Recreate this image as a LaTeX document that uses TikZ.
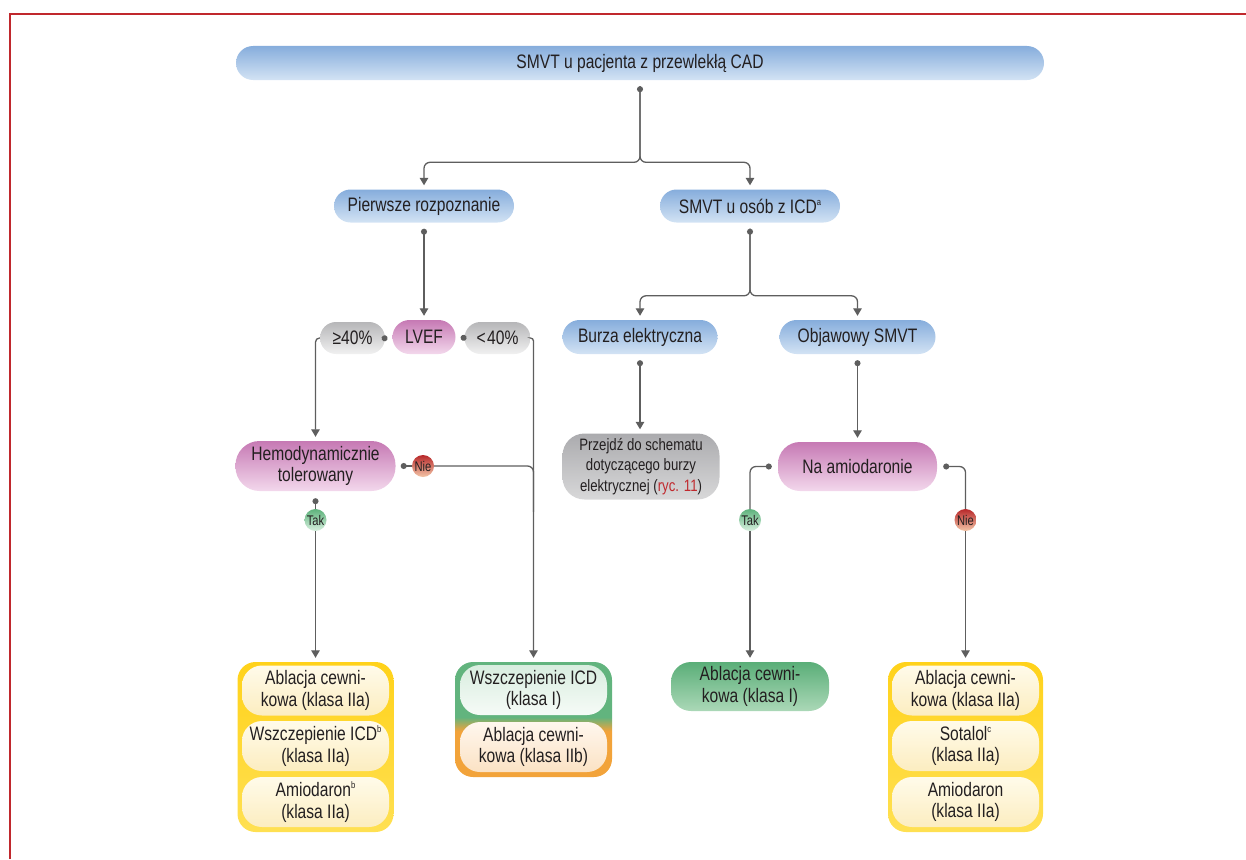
\documentclass[tikz,border=0pt]{standalone}
\usepackage{fontspec}
\setmainfont{Liberation Sans}[FakeStretch=0.80]
\usetikzlibrary{arrows.meta,calc}

\definecolor{ink}{HTML}{231F20}
\definecolor{frameC}{HTML}{C0282D}
\definecolor{lineC}{HTML}{5E5E5E}
\definecolor{refred}{HTML}{C0282D}
\definecolor{blueT}{HTML}{86ADDC}
\definecolor{blueB}{HTML}{D3E3F4}
\definecolor{pinkT}{HTML}{C679B4}
\definecolor{pinkB}{HTML}{F3D8EC}
\definecolor{pctT}{HTML}{B6B6B8}
\definecolor{pctB}{HTML}{F1F1F1}
\definecolor{stoneT}{HTML}{ABABAE}
\definecolor{stoneB}{HTML}{D8D8D9}
\definecolor{greenT}{HTML}{5AAE78}
\definecolor{greenB}{HTML}{ABD8B7}
\definecolor{goldT}{HTML}{FFD21A}
\definecolor{goldB}{HTML}{FFE052}
\definecolor{creamT}{HTML}{FFFBEA}
\definecolor{creamB}{HTML}{FCEDC0}
\definecolor{mintT}{HTML}{D8EDDF}
\definecolor{mintB}{HTML}{F6FBF7}
\definecolor{peachT}{HTML}{FFF7EE}
\definecolor{peachB}{HTML}{FBE2C4}
\definecolor{greenC}{HTML}{62B47E}
\definecolor{orangeC}{HTML}{F2A33A}
\definecolor{noT}{HTML}{B8282A}
\definecolor{noB}{HTML}{F3C6A8}
\definecolor{yesT}{HTML}{5DB27B}
\definecolor{yesB}{HTML}{D8F0DF}

\pgfdeclareverticalshading{greenorange}{100bp}{color(0bp)=(orangeC); color(45bp)=(orangeC); color(51bp)=(greenC); color(100bp)=(greenC)}

\newcommand\mainsize{\fontsize{19.5}{21.7}\selectfont}
\newcommand\smallsize{\fontsize{16.5}{20.5}\selectfont}
\newcommand\tagsize{\fontsize{14}{15}\selectfont}
% small raised footnote letter
\newcommand\fnmark[1]{\raisebox{7.5pt}{\fontsize{9.5}{9.5}\selectfont #1}}

\tikzset{
  box/.style={inner sep=0pt, align=center, text=ink, font=\mainsize},
  bluebox/.style={box, top color=blueT, bottom color=blueB, minimum height=33pt, rounded corners=16.5pt},
  pinkbox/.style={box, top color=pinkT, bottom color=pinkB},
  pctbox/.style={box, top color=pctT, bottom color=pctB, minimum height=32pt, rounded corners=16pt},
  stonebox/.style={box, top color=stoneT, bottom color=stoneB, font=\smallsize},
  greenbox/.style={box, top color=greenT, bottom color=greenB},
  goldframe/.style={top color=goldT, bottom color=goldB, minimum width=156pt, minimum height=170pt, rounded corners=18pt, inner sep=0pt},
  mixframe/.style={shading=greenorange, shade, minimum width=157pt, minimum height=115pt, rounded corners=18pt, inner sep=0pt},
  creambox/.style={box, top color=creamT, bottom color=creamB, minimum width=147pt, minimum height=50pt, rounded corners=20pt},
  mintbox/.style={box, top color=mintT, bottom color=mintB, minimum width=147pt, minimum height=50pt, rounded corners=20pt},
  peachbox/.style={box, top color=peachT, bottom color=peachB, minimum width=147pt, minimum height=50pt, rounded corners=20pt},
  notag/.style={circle, inner sep=0pt, minimum size=22pt, top color=noT, bottom color=noB, text=ink, font=\tagsize},
  yestag/.style={circle, inner sep=0pt, minimum size=22pt, top color=yesT, bottom color=yesB, text=ink, font=\tagsize},
  wire/.style={draw=lineC, line width=1.3pt, rounded corners=6pt},
  arr/.style={wire, -{Triangle[width=8.5pt,length=7.5pt]}, shorten >=4pt},
  darr/.style={wire, {Circle[length=6pt]}-{Triangle[width=8.5pt,length=7.5pt]}, shorten >=4pt},
  dwire/.style={wire, {Circle[length=6pt]}-},
  frame/.style={draw=frameC, line width=2pt}
}

\begin{document}
\begin{tikzpicture}[x=1pt,y=-1pt]
\useasboundingbox (0,0) rectangle (1246,859);
\draw[frame] (10,859) -- (10,14) -- (1246,14);

% --- level 1 and 2
\node[bluebox, minimum width=808pt, minimum height=34pt, rounded corners=17pt] (top) at (640,63) {SMVT u pacjenta z przewlekłą CAD};
\node[bluebox, minimum width=180pt] (first) at (424,206) {Pierwsze rozpoznanie};
\node[bluebox, minimum width=180pt] (icd) at (750,206) {SMVT u osób z ICD\fnmark{a}};

% --- LVEF row
\node[pinkbox, minimum width=63pt, minimum height=34pt, rounded corners=17pt] (lvef) at (424,337) {LVEF};
\node[pctbox, minimum width=65pt] (ge) at (352.5,338) {≥40\%};
\node[pctbox, minimum width=66pt] (lt) at (497.5,338) {<\kern1.5pt40\%};
\node[bluebox, minimum width=155pt, minimum height=34pt, rounded corners=17pt] (storm) at (640,337) {Burza elektryczna};
\node[bluebox, minimum width=156pt, minimum height=34pt, rounded corners=17pt] (symp) at (857.5,337) {Objawowy SMVT};

% --- decision row
\node[pinkbox, minimum width=160pt, minimum height=50pt, rounded corners=24pt] (hemo) at (315.5,466) {Hemodynamicznie\\tolerowany};
\node[stonebox, minimum width=157pt, minimum height=66pt, rounded corners=22pt] (goto) at (641,466.5) {Przejdź do schematu\\dotyczącego burzy\\elektrycznej ({\color{refred}ryc. 11})};
\node[pinkbox, minimum width=159pt, minimum height=49pt, rounded corners=22pt] (amio) at (857.5,466.5) {Na amiodaronie};

% --- yes / no tags
\node[notag] (no1) at (423,466) {Nie};
\node[yestag] (yes1) at (315.5,520) {Tak};
\node[yestag] (yes2) at (750,520) {Tak};
\node[notag] (no2) at (965.5,520) {Nie};

% --- therapies
\node[greenbox, minimum width=158pt, minimum height=49pt, rounded corners=20pt] (abl) at (750,686.5) {Ablacja cewni-\\kowa (klasa I)};

\node[goldframe] (lgold) at (315.5,747) {};
\node[creambox] (l1) at (315.5,690.5) {Ablacja cewni-\\kowa (klasa IIa)};
\node[creambox] (l2) at (315.5,746) {Wszczepienie ICD\fnmark{b}\\(klasa IIa)};
\node[creambox] (l3) at (315.5,802) {Amiodaron\fnmark{b}\\(klasa IIa)};

\node[mixframe] (mix) at (533.5,719.5) {};
\node[mintbox] (m1) at (533.5,690) {Wszczepienie ICD\\(klasa I)};
\node[peachbox] (m2) at (533.5,747) {Ablacja cewni-\\kowa (klasa IIb)};

\node[goldframe, minimum width=155pt] (rgold) at (965.5,747) {};
\node[creambox] (r1) at (965.5,690.5) {Ablacja cewni-\\kowa (klasa IIa)};
\node[creambox] (r2) at (965.5,746) {Sotalol\fnmark{c}\\(klasa IIa)};
\node[creambox] (r3) at (965.5,802) {Amiodaron\\(klasa IIa)};

% --- connectors
\draw[darr] ($(top.south)+(0,6)$) |- ($(first.north)+(0,-27)$) -- (first.north);
\draw[arr] ($(top.south)+(0,6)$) |- ($(icd.north)+(0,-27)$) -- (icd.north);

\draw[darr] ($(first.south)+(0,6)$) -- (lvef.north);
\draw[dwire] ($(lvef.west)+(-5,0)$) -- (ge.east);
\draw[dwire] ($(lvef.east)+(5,0)$) -- (lt.west);
\draw[arr, rounded corners=4pt] (ge.west) -| (hemo.north);
\draw[arr, rounded corners=3pt] (lt.east) -| (mix.north);

\draw[dwire] ($(hemo.east)+(5,0)$) -- (no1.west);
\draw[wire] (no1.east) -| ($(mix.north)+(0,-150)$);
\draw[dwire] ($(hemo.south)+(0,7)$) -- (yes1.north);
\draw[arr] (yes1.south) -- (lgold.north);

\draw[darr] ($(icd.south)+(0,6)$) |- ($(storm.north)+(0,-24)$) -- (storm.north);
\draw[arr] ($(icd.south)+(0,6)$) |- ($(symp.north)+(0,-24)$) -- (symp.north);

\draw[darr] ($(storm.south)+(0,6)$) -- (storm.south |- goto.north);
\draw[darr] ($(symp.south)+(0,6)$) -- (amio.north);

\draw[dwire] ($(amio.west)+(-6,0)$) -| (yes2.north);
\draw[arr] (yes2.south) -- (abl.north);
\draw[dwire] ($(amio.east)+(6,0)$) -| (no2.north);
\draw[arr] (no2.south) -- (rgold.north);
\end{tikzpicture}
\end{document}
